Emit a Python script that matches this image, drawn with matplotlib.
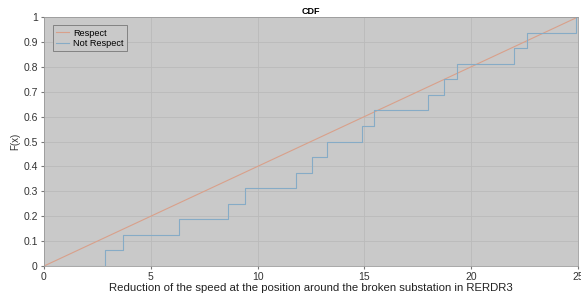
import numpy as np
import matplotlib
matplotlib.use("Agg")
import matplotlib.pyplot as plt

# sorted sample values where the empirical CDF jumps
samples = [2.86, 3.7, 6.3, 8.6, 9.4, 11.79, 12.54, 13.24, 14.91, 15.47,
           18.0, 18.75, 19.35, 22.0, 22.6, 24.9]
x_max = 25
ref_x = [0, 25]
ref_y = [0, 1]

n = len(samples)
step_x = [0] + samples + [x_max]
step_y = [0] + [(i + 1) / n for i in range(n)] + [1.0]

plt.rcParams['font.family'] = ['Liberation Sans', 'DejaVu Sans']

fig = plt.figure(figsize=(5.81, 2.93), dpi=100)
ax = fig.add_axes([0.0757, 0.092, 0.919, 0.850])
ax.set_facecolor('#c9c9c9')

ax.plot(ref_x, ref_y, color='#d9a08a', lw=0.8, label='Respect')
ax.step(step_x, step_y, where='post', color='#86abc6', lw=0.8, label='Not Respect')

ax.set_xlim(0, x_max)
ax.set_ylim(0, 1)
ax.set_xticks([0, 5, 10, 15, 20, 25])
ax.set_yticks(np.arange(0, 1.01, 0.1))
ax.set_yticklabels(['0', '0.1', '0.2', '0.3', '0.4', '0.5', '0.6', '0.7', '0.8', '0.9', '1'])
ax.grid(True, color='#bababa', lw=0.6)
ax.tick_params(labelsize=7.5, length=2.5, color='#777777', labelcolor='#333333', pad=2)
for s in ax.spines.values():
    s.set_color('#9a9a9a')
    s.set_linewidth(0.6)

ax.set_title('CDF', fontsize=6.5, fontweight='bold', pad=2)
ax.set_xlabel('Reduction of the speed at the position around the broken substation in RERDR3',
              fontsize=8.2, labelpad=0.5, color='#222222')
ax.set_ylabel('F(x)', fontsize=7, labelpad=2, color='#333333')

leg = ax.legend(loc='upper left', fontsize=6.6, frameon=True, fancybox=False,
                handlelength=1.4, handletextpad=0.5, borderpad=0.35, labelspacing=0.15,
                bbox_to_anchor=(0.008, 0.985))
leg.get_frame().set_facecolor('#c9c9c9')
leg.get_frame().set_edgecolor('#777777')
leg.get_frame().set_linewidth(0.6)
leg.get_frame().set_alpha(1)

fig.savefig('out.png', dpi=100)
